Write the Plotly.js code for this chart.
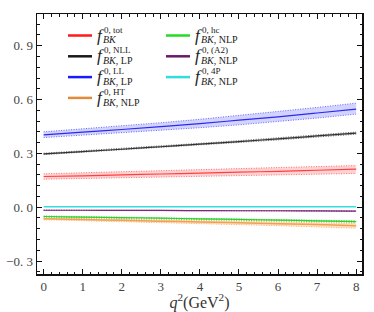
<!DOCTYPE html>
<html>
<head>
<meta charset="utf-8">
<script src="https://cdn.plot.ly/plotly-3.0.1.min.js"></script>
<style>
  html, body { margin: 0; padding: 0; background: #fff; }
  #plot { width: 374px; height: 312px; }
</style>
</head>
<body>
<div id="plot"></div>
<script>
// q^2 grid (GeV^2)
const q2 = [0, 1, 2, 3, 4, 5, 6, 7, 8];

// f^{0,tot}_{BK}
const totCentral = [0.171, 0.175, 0.180, 0.185, 0.190, 0.195, 0.200, 0.206, 0.212];
const totUpper   = [0.186, 0.191, 0.197, 0.203, 0.209, 0.215, 0.221, 0.226, 0.232];
const totLower   = [0.156, 0.160, 0.164, 0.168, 0.172, 0.176, 0.180, 0.184, 0.188];

// f^{0,NLL}_{BK,LP}
const nllCentral = [0.297, 0.310, 0.323, 0.337, 0.351, 0.366, 0.381, 0.397, 0.413];
const nllUpper   = [0.301, 0.314, 0.328, 0.342, 0.356, 0.371, 0.387, 0.403, 0.419];
const nllLower   = [0.293, 0.306, 0.318, 0.332, 0.346, 0.361, 0.375, 0.391, 0.407];

// f^{0,LL}_{BK,LP}
const llCentral = [0.403, 0.418, 0.433, 0.449, 0.466, 0.485, 0.504, 0.525, 0.547];
const llUpper   = [0.420, 0.436, 0.453, 0.471, 0.490, 0.511, 0.533, 0.556, 0.580];
const llLower   = [0.388, 0.401, 0.414, 0.428, 0.443, 0.459, 0.477, 0.497, 0.519];

// f^{0,HT}_{BK,NLP}
const htCentral = [-0.065, -0.069, -0.073, -0.078, -0.082, -0.087, -0.092, -0.097, -0.103];
const htUpper   = [-0.060, -0.063, -0.067, -0.071, -0.074, -0.078, -0.082, -0.086, -0.090];
const htLower   = [-0.070, -0.075, -0.080, -0.086, -0.091, -0.097, -0.103, -0.110, -0.117];

// f^{0,hc}_{BK,NLP}
const hcCentral = [-0.052, -0.055, -0.058, -0.061, -0.065, -0.068, -0.072, -0.076, -0.080];
const hcUpper   = [-0.049, -0.052, -0.055, -0.058, -0.061, -0.064, -0.068, -0.072, -0.076];
const hcLower   = [-0.055, -0.058, -0.061, -0.064, -0.068, -0.072, -0.076, -0.080, -0.084];

// f^{0,(A2)}_{BK,NLP}
const a2Central = [-0.017, -0.017, -0.018, -0.018, -0.019, -0.020, -0.020, -0.021, -0.022];
const a2Upper   = [-0.016, -0.016, -0.017, -0.017, -0.018, -0.019, -0.019, -0.020, -0.020];
const a2Lower   = [-0.018, -0.018, -0.019, -0.019, -0.020, -0.021, -0.021, -0.022, -0.024];

// f^{0,4P}_{BK,NLP}
const fourPCentral = [0.003, 0.003, 0.003, 0.003, 0.003, 0.003, 0.003, 0.003, 0.003];

const yTickVals = [-0.3, 0, 0.3, 0.6, 0.9];
const yTickText = ['\u22120. 3', '0. 0', '0. 3', '0. 6', '0. 9'];
const xTickVals = [0, 1, 2, 3, 4, 5, 6, 7, 8];

// legend entries: [color, superscript, subscript, column, row]
const legendEntries = [
  ['#ff1a1a', '0, tot', '<i>BK</i>', 0, 0],
  ['#1a1a1a', '0, NLL', '<i>BK</i>, LP', 0, 1],
  ['#1a1aff', '0, LL', '<i>BK</i>, LP', 0, 2],
  ['#e08a3c', '0, HT', '<i>BK</i>, NLP', 0, 3],
  ['#22dd22', '0, hc', '<i>BK</i>, NLP', 1, 0],
  ['#6a1a6a', '0, (A2)', '<i>BK</i>, NLP', 1, 1],
  ['#33dddd', '0, 4P', '<i>BK</i>, NLP', 1, 2]
];

const FONT = 'Liberation Serif, DejaVu Serif, serif';

function bandTraces(upper, lower, color, fill) {
  return [
    {
      x: q2, y: upper, type: 'scatter', mode: 'lines',
      line: { color: color, width: 1, dash: '1px,1.5px' },
      hoverinfo: 'skip', showlegend: false
    },
    {
      x: q2, y: lower, type: 'scatter', mode: 'lines',
      line: { color: color, width: 1, dash: '1px,1.5px' },
      fill: 'tonexty', fillcolor: fill,
      hoverinfo: 'skip', showlegend: false
    }
  ];
}

function centralTrace(y, color, width) {
  return {
    x: q2, y: y, type: 'scatter', mode: 'lines',
    line: { color: color, width: width, shape: 'spline' },
    hoverinfo: 'skip', showlegend: false
  };
}

const traces = [
  ...bandTraces(llUpper, llLower, 'rgba(90,90,255,0.9)', 'rgba(130,130,255,0.35)'),
  centralTrace(llCentral, '#2a2aee', 1.2),
  ...bandTraces(nllUpper, nllLower, 'rgba(90,90,90,0.9)', 'rgba(120,120,120,0.35)'),
  centralTrace(nllCentral, '#333333', 1.2),
  ...bandTraces(totUpper, totLower, 'rgba(255,100,100,0.9)', 'rgba(255,130,130,0.35)'),
  centralTrace(totCentral, '#ff4040', 1.2),
  centralTrace(fourPCentral, '#33e0e0', 1.5),
  ...bandTraces(a2Upper, a2Lower, 'rgba(150,60,150,0.8)', 'rgba(170,90,170,0.35)'),
  centralTrace(a2Central, '#7a2a7a', 1.2),
  ...bandTraces(htUpper, htLower, 'rgba(255,170,100,0.9)', 'rgba(255,190,130,0.45)'),
  centralTrace(htCentral, '#f0a050', 1.5),
  ...bandTraces(hcUpper, hcLower, 'rgba(40,220,40,0.9)', 'rgba(90,230,90,0.35)'),
  centralTrace(hcCentral, '#33cc33', 1.2)
];

// legend drawn as shapes + annotations (pixel layout in paper coords)
const W = 374, H = 312, mL = 37, mR = 12, mT = 14, mB = 38;
const pw = W - mL - mR, ph = H - mT - mB;
const px = x => (x - mL) / pw;
const py = y => 1 - (y - mT) / ph;

const shapes = [];
const annotations = [];
legendEntries.forEach(([color, sup, sub, col, row]) => {
  const x0 = col === 0 ? 68 : 166;
  const yc = 35.5 + row * 20.8;
  shapes.push({
    type: 'line', xref: 'paper', yref: 'paper',
    x0: px(x0), x1: px(x0 + 24), y0: py(yc), y1: py(yc),
    line: { color: color, width: 2.5 }
  });
  annotations.push({
    xref: 'paper', yref: 'paper', x: px(x0 + 27), y: py(yc - 0.5),
    xanchor: 'left', yanchor: 'middle', showarrow: false,
    text: '<i>f</i>', font: { family: FONT, size: 17, color: '#222' }
  });
  annotations.push({
    xref: 'paper', yref: 'paper', x: px(x0 + 34), y: py(yc - 6),
    xanchor: 'left', yanchor: 'middle', showarrow: false,
    text: sup, font: { family: FONT, size: 9, color: '#222' }
  });
  annotations.push({
    xref: 'paper', yref: 'paper', x: px(x0 + 32.5), y: py(yc + 4.5),
    xanchor: 'left', yanchor: 'middle', showarrow: false,
    text: sub, font: { family: FONT, size: 10, color: '#222' }
  });
});

const axisCommon = {
  showline: true, linecolor: '#111', linewidth: 1.5, mirror: 'ticks',
  ticks: 'inside', ticklen: 5, tickwidth: 1, tickcolor: '#111',
  showgrid: false, zeroline: false,
  tickfont: { family: FONT, size: 13, color: '#444' }
};

const layout = {
  width: W, height: H,
  margin: { l: mL, r: mR, t: mT, b: mB },
  paper_bgcolor: '#fff', plot_bgcolor: '#fff',
  showlegend: false,
  xaxis: {
    ...axisCommon,
    range: [-0.17, 8.15],
    tickvals: xTickVals,
    ticktext: xTickVals.map(String),
    minor: { dtick: 0.2, tick0: 0, ticks: 'inside', ticklen: 2.5, tickcolor: '#111' },
    title: { text: '<i>q</i><sup>2</sup>(GeV<sup>2</sup>)', font: { family: FONT, size: 16, color: '#333' }, standoff: 4 }
  },
  yaxis: {
    ...axisCommon,
    range: [-0.3725, 1.077],
    tickvals: yTickVals,
    ticktext: yTickText,
    minor: { dtick: 0.06, tick0: 0, ticks: 'inside', ticklen: 2.5, tickcolor: '#111' }
  },
  shapes: shapes,
  annotations: annotations
};

Plotly.newPlot('plot', traces, layout, { staticPlot: true, displayModeBar: false });
</script>
</body>
</html>
